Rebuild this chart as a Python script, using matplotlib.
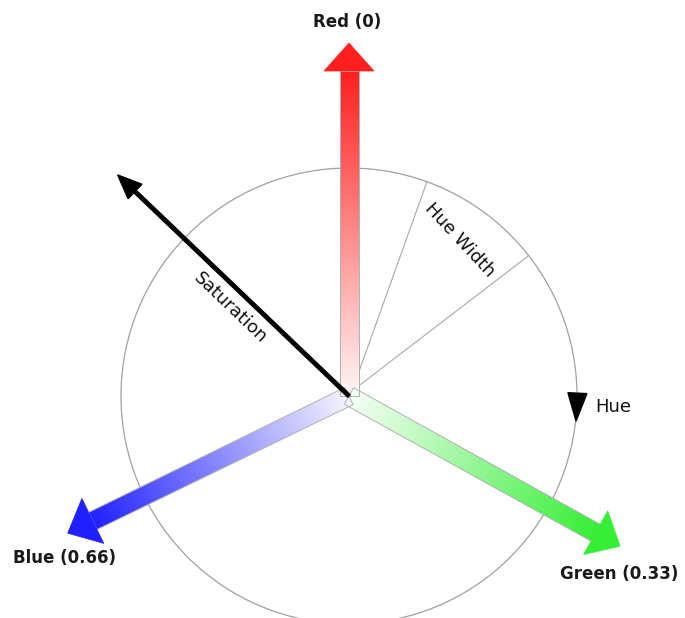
import numpy as np
import matplotlib.pyplot as plt
from matplotlib.patches import Polygon, Circle
from matplotlib.collections import PolyCollection
from matplotlib.colors import to_rgb

# colour axes of the hue wheel (angles in degrees, 0 = right, counter-clockwise)
axis_labels = ['Red (0)', 'Green (0.33)', 'Blue (0.66)']
axis_angles = [90, -29, 206]
axis_lengths = [353, 310, 313]
axis_colors = ['#ff1f1f', '#36ee36', '#2020ff']
label_pos = [(-2, 374), (270, -178), (-285, -162)]

hue_width_angles = [70, 38]
saturation_angle = 136.3
saturation_length = 320
hue_marker_angle = -2.8

R = 228

fig = plt.figure(figsize=(6.85, 6.18), dpi=100)
ax = fig.add_axes([0, 0, 1, 1])
ax.set_xlim(-349, 336)
ax.set_ylim(-222, 396)
ax.axis('off')

# wheel outline
ax.add_patch(Circle((0, 0), R, fill=False, ec='#a0a0a0', lw=0.9, zorder=1))

# hue width wedge lines
for a in hue_width_angles:
    t = np.radians(a)
    ax.plot([3, R * np.cos(t)], [5, R * np.sin(t)], color='#a8a8a8', lw=0.8, zorder=1)
ax.text(111, 156, 'Hue Width', rotation=-47, ha='center', va='center',
        fontsize=13, color='#111111', zorder=5)


def gradient_arrow(angle, length, color, shaft_w=19, head_w=50, head_l=28):
    t = np.radians(angle)
    u = np.array([np.cos(t), np.sin(t)])
    n = np.array([-u[1], u[0]])
    shaft_l = length - head_l
    c = np.array(to_rgb(color))
    nseg = 80
    polys, cols = [], []
    for i in range(nseg):
        s0, s1 = shaft_l * i / nseg, shaft_l * (i + 1) / nseg + 0.5
        polys.append([s0 * u + n * shaft_w / 2, s1 * u + n * shaft_w / 2,
                      s1 * u - n * shaft_w / 2, s0 * u - n * shaft_w / 2])
        f = 0.04 + 0.96 * (i + 0.5) / nseg
        cols.append(1 - f * (1 - c))
    ax.add_collection(PolyCollection(polys, facecolors=cols, edgecolors='none', zorder=2))
    outline = [n * shaft_w / 2, shaft_l * u + n * shaft_w / 2,
               shaft_l * u - n * shaft_w / 2, -n * shaft_w / 2]
    ax.add_patch(Polygon(outline, closed=True, fill=False, ec='#b0b0b0', lw=0.7, zorder=3))
    head = [shaft_l * u + n * head_w / 2, length * u, shaft_l * u - n * head_w / 2]
    ax.add_patch(Polygon(head, closed=True, fc=color, ec=color, lw=0.5, zorder=3))


for a, l, col in zip(axis_angles, axis_lengths, axis_colors):
    gradient_arrow(a, l, col)

for lab, pos in zip(axis_labels, label_pos):
    ax.text(pos[0], pos[1], lab, ha='center', va='center', fontsize=12,
            fontweight='bold', color='#1a1a1a', zorder=5)

# saturation arrow
ts = np.radians(saturation_angle)
ax.arrow(0, 0, saturation_length * np.cos(ts), saturation_length * np.sin(ts),
         width=3.5, head_width=20, head_length=24, length_includes_head=True,
         color='black', zorder=4)
ax.text(-119, 88, 'Saturation', rotation=saturation_angle - 180, ha='center',
        va='center', fontsize=13, color='#111111', zorder=5)

# hue direction marker on the wheel
th = np.radians(hue_marker_angle)
p = R * np.array([np.cos(th), np.sin(th)])
tang = np.array([np.sin(th), -np.cos(th)])
nrm = np.array([np.cos(th), np.sin(th)])
tri = [p - tang * 14 + nrm * 9.5, p - tang * 14 - nrm * 9.5, p + tang * 14]
ax.add_patch(Polygon(tri, closed=True, fc='black', ec='black', zorder=4))
ax.text(246, -11, 'Hue', ha='left', va='center', fontsize=13, color='#111111', zorder=5)

fig.savefig('out.png', dpi=100, facecolor='white')
